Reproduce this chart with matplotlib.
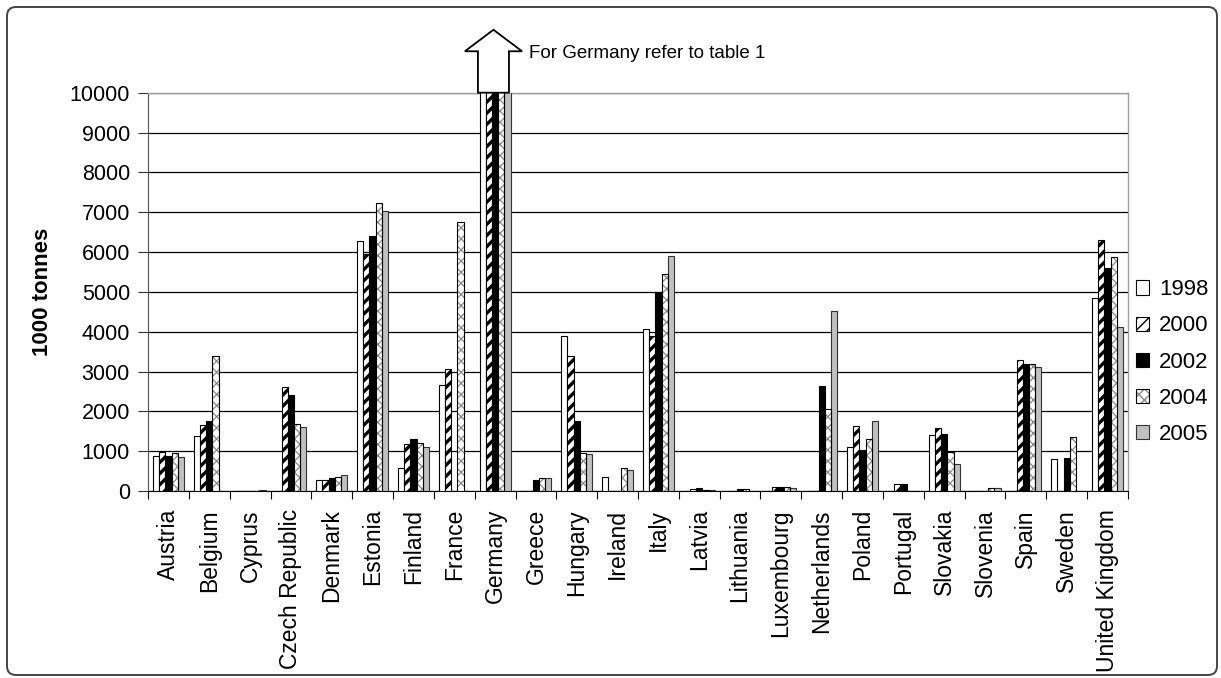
import numpy as np
import matplotlib
matplotlib.use("Agg")
import matplotlib.pyplot as plt
from matplotlib.patches import Polygon, FancyBboxPatch
from matplotlib.transforms import IdentityTransform
from matplotlib.legend_handler import HandlerTuple

plt.rcParams['font.family'] = ['Liberation Sans', 'DejaVu Sans']

countries = ["Austria", "Belgium", "Cyprus", "Czech Republic", "Denmark", "Estonia",
             "Finland", "France", "Germany", "Greece", "Hungary", "Ireland", "Italy",
             "Latvia", "Lithuania", "Luxembourg", "Netherlands", "Poland", "Portugal",
             "Slovakia", "Slovenia", "Spain", "Sweden", "United Kingdom"]
years = ["1998", "2000", "2002", "2004", "2005"]

# 1000 tonnes per country; Germany runs off the scale (see table 1)
v1998 = [870, 1370, 0, 0, 270, 6270, 570, 2670, 10300, 0, 3890, 350, 4060,
         0, 0, 0, 0, 1100, 0, 1400, 0, 0, 800, 4840]
v2000 = [990, 1660, 0, 2600, 270, 5950, 1180, 3060, 10300, 0, 3390, 0, 3890,
         60, 0, 100, 0, 1620, 170, 1575, 0, 3280, 0, 6310]
v2002 = [870, 1770, 0, 2410, 330, 6400, 1300, 0, 10300, 280, 1770, 0, 4990,
         70, 45, 100, 2630, 1020, 170, 1425, 0, 3200, 840, 5590]
v2004 = [960, 3390, 0, 1680, 360, 7230, 1200, 6750, 10300, 330, 950, 570, 5450,
         30, 45, 100, 2060, 1310, 0, 980, 70, 3180, 1350, 5870]
v2005 = [850, 0, 20, 1600, 390, 7020, 1100, 0, 10300, 330, 920, 520, 5900,
         30, 0, 80, 4510, 1760, 0, 670, 70, 3110, 0, 4110]
series = [v1998, v2000, v2002, v2004, v2005]
y_ticks = list(range(0, 10001, 1000))

W, H = 1221, 678
fig = plt.figure(figsize=(W / 100, H / 100), dpi=100)
ax = fig.add_axes([148 / W, 1 - 491 / H, 980 / W, 398.3 / H])

x = np.arange(len(countries))
group = 0.76
bw = group / len(years)
offsets = (np.arange(len(years)) - (len(years) - 1) / 2) * bw

def hatch_lw(bars, lw):
    for b in bars:
        if hasattr(b, "set_hatch_linewidth"):
            b.set_hatch_linewidth(lw)

edge_lw = 0.8
handles = []
# 1998: white
b = ax.bar(x + offsets[0], series[0], bw, color="white", edgecolor="black",
           linewidth=edge_lw, zorder=3)
handles.append(b[0])
# 2000: bold diagonal stripes
b = ax.bar(x + offsets[1], series[1], bw, color="white", edgecolor="black",
           hatch="///", linewidth=edge_lw, zorder=3)
hatch_lw(b, 2.4)
handles.append(b[0])
# 2002: solid black
b = ax.bar(x + offsets[2], series[2], bw, color="black", edgecolor="black",
           linewidth=edge_lw, zorder=3)
handles.append(b[0])
# 2004: grey cross-hatch with dark outline
bh = ax.bar(x + offsets[3], series[3], bw, color="white", edgecolor="#8a8a8a",
            hatch="xxx", linewidth=0, zorder=3)
hatch_lw(bh, 0.9)
bo = ax.bar(x + offsets[3], series[3], bw, fill=False, edgecolor="black",
            linewidth=edge_lw, zorder=3.1)
handles.append((bh[0], bo[0]))
# 2005: grey
b = ax.bar(x + offsets[4], series[4], bw, color="#c0c0c0", edgecolor="#333333",
           linewidth=edge_lw, zorder=3)
handles.append(b[0])

ax.set_xlim(-0.5, len(countries) - 0.5)
ax.set_ylim(0, 10000)
ax.set_yticks(y_ticks)
ax.set_yticklabels([str(t) for t in y_ticks], fontsize=15.5)
ax.tick_params(axis="y", direction="out", length=7, width=0.8, pad=6, color="#333333")

ax.set_xticks(x)
ax.set_xticklabels(countries, rotation=90, fontsize=16.5, va="top", ha="center")
ax.set_xticks(np.arange(len(countries) + 1) - 0.5, minor=True)
ax.tick_params(axis="x", which="major", length=0, pad=13)
ax.tick_params(axis="x", which="minor", length=6, width=0.8, direction="out")

ax.yaxis.grid(True, color="black", linewidth=0.9, zorder=0)
ax.set_axisbelow(True)
for side in ("top", "right"):
    ax.spines[side].set_color("#a0a0a0")
    ax.spines[side].set_linewidth(1.0)
ax.spines["left"].set_color("#555555")
ax.spines["bottom"].set_color("black")

ax.set_ylabel("1000 tonnes", fontsize=16, fontweight="bold")
ax.yaxis.set_label_coords(-0.097, 0.5)

# Block arrow pointing up from the Germany group
gi = countries.index("Germany")
cx = gi - 0.04
shaft, wing = 0.38, 0.70
arrow_pts = [(cx - shaft, 10000), (cx - shaft, 11040), (cx - wing, 11040),
             (cx, 11580), (cx + wing, 11040), (cx + shaft, 11040), (cx + shaft, 10000)]
ax.add_patch(Polygon(arrow_pts, closed=True, facecolor="white", edgecolor="black",
                     linewidth=1.3, clip_on=False, zorder=6))
ax.text(gi + 0.83, 10980, "For Germany refer to table 1", fontsize=13.5,
        va="center", ha="left", clip_on=False)

ax.legend(handles, years, loc="center left", bbox_to_anchor=(1136 / W, 1 - 362 / H),
          bbox_transform=fig.transFigure, frameon=False, fontsize=16,
          handlelength=0.6, handleheight=0.6, handletextpad=0.45,
          labelspacing=0.68, borderpad=0, borderaxespad=0,
          handler_map={tuple: HandlerTuple(ndivide=1, pad=0)})

# Rounded outer frame
frame = FancyBboxPatch((7, 3), 1210, 668, boxstyle="round,pad=0,rounding_size=9",
                       transform=IdentityTransform(), facecolor="none",
                       edgecolor="#444444", linewidth=1.4)
fig.patches.append(frame)

fig.savefig("out.png", dpi=100)
